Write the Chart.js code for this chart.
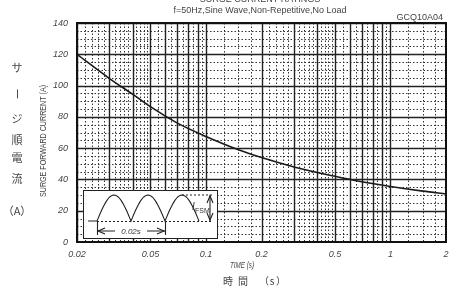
<!DOCTYPE html>
<html>
<head>
<meta charset="utf-8">
<script src="https://cdn.jsdelivr.net/npm/chart.js@4.4.1/dist/chart.umd.min.js"></script>
<style>
html, body { margin: 0; padding: 0; background: #fff; }
#wrap { position: relative; width: 463px; height: 289px; }
</style>
</head>
<body>
<div id="wrap"><canvas id="chart" width="463" height="289"></canvas></div>
<script>
// time (s) vs peak surge current (A)
const times = [0.02, 0.03, 0.04, 0.05, 0.07, 0.1, 0.15, 0.2, 0.3, 0.5, 0.7, 1, 1.5, 2];
const currents = [120, 104.5, 94.5, 86.5, 76, 67.5, 59, 54, 48, 42, 38.5, 35.5, 32.5, 30.7];
const xTickValues = [0.02, 0.05, 0.1, 0.2, 0.5, 1, 2];
const yTickValues = [0, 20, 40, 60, 80, 100, 120, 140];

const labelFont = '"Liberation Sans", Arial, sans-serif';
const textColor = '#444';

// log paper grid: solid at each integer multiple, dotted in between
const majorMults = [2, 3, 4, 5, 6, 7, 8, 9];
const minorMults = [1.25, 1.5, 1.75, 2.2, 2.4, 2.6, 2.8, 3.2, 3.4, 3.6, 3.8,
    4.2, 4.4, 4.6, 4.8, 5.5, 6.5, 7.5, 8.5, 9.5];
const decades = [0.01, 0.1, 1];

const gridPlugin = {
    id: 'logGrid',
    beforeDatasetsDraw(chart) {
        const { ctx, chartArea: a, scales: { x, y } } = chart;
        ctx.save();
        ctx.beginPath();
        ctx.rect(a.left, a.top, a.right - a.left, a.bottom - a.top);
        ctx.clip();

        // dotted lines
        ctx.strokeStyle = '#333';
        ctx.lineWidth = 1;
        ctx.setLineDash([1.5, 2]);
        ctx.beginPath();
        decades.forEach(d => minorMults.forEach(m => {
            const px = Math.round(x.getPixelForValue(d * m)) + 0.5;
            ctx.moveTo(px, a.top); ctx.lineTo(px, a.bottom);
        }));
        for (let v = 5; v < 140; v += 5) {
            if (v % 20 === 0) continue;
            const py = Math.round(y.getPixelForValue(v)) + 0.5;
            ctx.moveTo(a.left, py); ctx.lineTo(a.right, py);
        }
        ctx.stroke();

        // solid lines
        ctx.setLineDash([]);
        ctx.strokeStyle = '#222';
        ctx.lineWidth = 1.4;
        ctx.beginPath();
        decades.forEach(d => {
            [1].concat(majorMults).forEach(m => {
                const px = Math.round(x.getPixelForValue(d * m)) + 0.5;
                ctx.moveTo(px, a.top); ctx.lineTo(px, a.bottom);
            });
        });
        yTickValues.forEach(v => {
            const py = Math.round(y.getPixelForValue(v)) + 0.5;
            ctx.moveTo(a.left, py); ctx.lineTo(a.right, py);
        });
        ctx.stroke();
        ctx.restore();
    }
};

function arrowHead(ctx, x, y, dx, dy) {
    ctx.beginPath();
    ctx.moveTo(x + dx * 7 - dy * 3, y + dy * 7 - dx * 3);
    ctx.lineTo(x, y);
    ctx.lineTo(x + dx * 7 + dy * 3, y + dy * 7 + dx * 3);
    ctx.stroke();
}

const insetPlugin = {
    id: 'inset',
    afterDatasetsDraw(chart) {
        const ctx = chart.ctx, a = chart.chartArea;
        const bx = a.left + 6, by = a.top + 167, bw = 134, bh = 48;
        ctx.save();
        ctx.fillStyle = '#fff';
        ctx.fillRect(bx, by, bw, bh);
        ctx.strokeStyle = '#222';
        ctx.lineWidth = 1;
        ctx.strokeRect(bx + 0.5, by + 0.5, bw, bh);

        const base = by + 31, h = 26, x0 = bx + 14, w = 34;
        // baseline lead-in and humps
        ctx.lineWidth = 1.1;
        ctx.beginPath();
        ctx.moveTo(bx + 5, base);
        ctx.lineTo(x0, base);
        for (let k = 0; k < 3; k++) {
            for (let i = 0; i <= 24; i++) {
                const t = i / 24;
                ctx.lineTo(x0 + w * (k + t), base - h * Math.sin(Math.PI * t));
            }
        }
        ctx.stroke();

        // dotted reference lines
        ctx.setLineDash([2, 2]);
        ctx.beginPath();
        ctx.moveTo(x0, base + 0.5); ctx.lineTo(bx + bw - 4, base + 0.5);
        ctx.moveTo(x0 + w * 2.5, base - h); ctx.lineTo(bx + bw - 4, base - h);
        ctx.stroke();
        ctx.setLineDash([]);

        // 0.02s period arrow
        const ay = by + 41;
        ctx.beginPath();
        ctx.moveTo(x0 + 0.5, base); ctx.lineTo(x0 + 0.5, ay + 4);
        ctx.moveTo(x0 + 2 * w + 0.5, base); ctx.lineTo(x0 + 2 * w + 0.5, ay + 4);
        ctx.moveTo(x0, ay); ctx.lineTo(x0 + 18, ay);
        ctx.moveTo(x0 + 2 * w - 18, ay); ctx.lineTo(x0 + 2 * w, ay);
        ctx.stroke();
        arrowHead(ctx, x0 + 1, ay, 1, 0);
        arrowHead(ctx, x0 + 2 * w - 1, ay, -1, 0);
        ctx.fillStyle = '#333';
        ctx.font = 'italic 8px ' + labelFont;
        ctx.textAlign = 'center';
        ctx.textBaseline = 'middle';
        ctx.fillText('0.02s', x0 + w, ay + 1);

        // IFSM arrow
        const ix = bx + bw - 7;
        ctx.beginPath();
        ctx.moveTo(ix, base - h); ctx.lineTo(ix, base);
        ctx.stroke();
        arrowHead(ctx, ix, base - h + 1, 0, 1);
        arrowHead(ctx, ix, base - 1, 0, -1);
        ctx.textAlign = 'left';
        ctx.font = 'italic 10px ' + labelFont;
        ctx.fillText('I', bx + bw - 25, base - 14);
        ctx.font = '7px ' + labelFont;
        ctx.fillText('FSM', bx + bw - 22, base - 10);
        ctx.restore();
    },
    afterDraw(chart) {
        const ctx = chart.ctx, a = chart.chartArea;
        ctx.save();
        // frame
        ctx.strokeStyle = '#111';
        ctx.lineWidth = 2;
        ctx.strokeRect(a.left, a.top, a.right - a.left, a.bottom - a.top);

        ctx.fillStyle = textColor;
        ctx.textAlign = 'center';
        ctx.textBaseline = 'alphabetic';
        ctx.font = '9px ' + labelFont;
        ctx.fillText('SURGE CURRENT RATINGS', 260, 2);
        ctx.fillText('f=50Hz,Sine Wave,Non-Repetitive,No Load', 260, 13);
        ctx.textAlign = 'right';
        ctx.fillText('GCQ10A04', 443, 20);

        // axis titles
        ctx.textAlign = 'center';
        ctx.font = 'italic 9px ' + labelFont;
        ctx.fillText('TIME (s)', 242, 268, 24);
        ctx.save();
        ctx.translate(46, 141);
        ctx.rotate(-Math.PI / 2);
        ctx.font = '9px ' + labelFont;
        ctx.fillText('SURGE FORWARD CURRENT (A)', 0, 0, 112);
        ctx.restore();

        ctx.font = '10px "Noto Sans CJK JP"';
        ctx.textBaseline = 'middle';
        [['時', 228], ['間', 243], ['（', 264], ['s', 272], ['）', 281]].forEach(([c, px]) => {
            ctx.fillText(c, px, 281);
        });
        ctx.font = '11px "Noto Sans CJK JP"';
        [['サ', 68], ['ー', 94], ['ジ', 119], ['順', 140], ['電', 158], ['流', 179]].forEach(([c, py]) => {
            if (c === 'ー') {
                ctx.save();
                ctx.translate(17, py);
                ctx.rotate(Math.PI / 2);
                ctx.fillText(c, 0, 0);
                ctx.restore();
            } else {
                ctx.fillText(c, 17, py);
            }
        });
        ctx.fillText('（A）', 17, 211);
        ctx.restore();
    }
};

new Chart(document.getElementById('chart'), {
    type: 'line',
    data: {
        datasets: [{
            data: times.map((t, i) => ({ x: t, y: currents[i] })),
            borderColor: '#1a1a1a',
            borderWidth: 1.6,
            pointRadius: 0,
            cubicInterpolationMode: 'monotone',
            fill: false
        }]
    },
    options: {
        responsive: false,
        animation: false,
        layout: { padding: { left: 0, top: 23, right: 17, bottom: 0 } },
        plugins: { legend: { display: false }, tooltip: { enabled: false } },
        scales: {
            x: {
                type: 'logarithmic',
                min: 0.02,
                max: 2,
                afterBuildTicks: s => { s.ticks = xTickValues.map(v => ({ value: v })); },
                afterFit: s => { s.height = 47; },
                grid: { display: false, drawTicks: false },
                border: { display: false },
                ticks: {
                    padding: 7,
                    autoSkip: false,
                    maxRotation: 0,
                    color: textColor,
                    font: { family: labelFont, size: 9, style: 'italic' },
                    callback: v => String(v)
                }
            },
            y: {
                min: 0,
                max: 140,
                afterBuildTicks: s => { s.ticks = yTickValues.map(v => ({ value: v })); },
                afterFit: s => { s.width = 77; },
                grid: { display: false, drawTicks: false },
                border: { display: false },
                ticks: {
                    padding: 9,
                    color: textColor,
                    font: { family: labelFont, size: 9, style: 'italic' }
                }
            }
        }
    },
    plugins: [gridPlugin, insetPlugin]
});
</script>
</body>
</html>
